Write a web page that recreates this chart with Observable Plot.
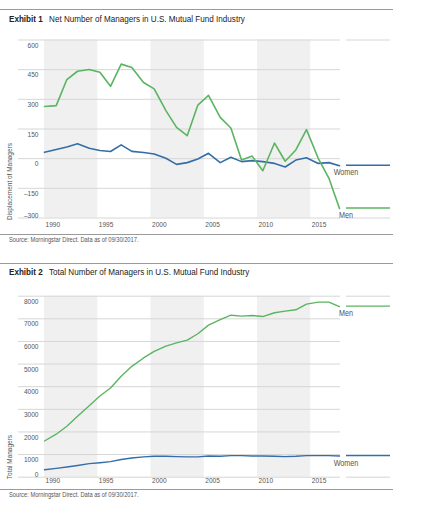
<!DOCTYPE html>
<html>
<head>
<meta charset="utf-8">
<script src="https://cdn.jsdelivr.net/npm/d3@7"></script>
<script src="https://cdn.jsdelivr.net/npm/@observablehq/plot@0.6"></script>
<style>
  body { margin: 0; background: #fff; }
  #page { position: relative; width: 422px; height: 508px; overflow: hidden;
    font-family: "Liberation Sans", Arial, sans-serif; }
  .rule { position: absolute; left: 0; width: 393px; height: 0; border-top: 1px solid #9a9a9a; }
  .title { position: absolute; left: 9px; font-size: 9.9px; line-height: 10px; color: #222; white-space: nowrap;
    transform: scaleX(0.82); transform-origin: 0 0; }
  .title b { margin-right: 5px; }
  .source { position: absolute; left: 9px; font-size: 7px; line-height: 8px; color: #555; white-space: nowrap;
    transform: scaleX(0.82); transform-origin: 0 0; }
  .chart { position: absolute; left: 0; }
</style>
</head>
<body>
<div id="page">
  <div class="rule" style="top:9px"></div>
  <div class="title" style="top:14px"><b>Exhibit 1</b> Net Number of Managers in U.S. Mutual Fund Industry</div>
  <div class="chart" id="c1" style="top:30px"></div>
  <div class="rule" style="top:234px"></div>
  <div class="source" style="top:235.5px">Source: Morningstar Direct. Data as of 09/30/2017.</div>

  <div class="rule" style="top:263px"></div>
  <div class="title" style="top:267px"><b>Exhibit 2</b> Total Number of Managers in U.S. Mutual Fund Industry</div>
  <div class="chart" id="c2" style="top:285px"></div>
  <div class="rule" style="top:489px"></div>
  <div class="source" style="top:491px">Source: Morningstar Direct. Data as of 09/30/2017.</div>
</div>
<script>
const obsDates = [1990.0, 1991.1, 1992.1, 1993.1, 1994.2, 1995.2, 1996.2, 1997.2, 1998.2, 1999.3,
  2000.3, 2001.4, 2002.4, 2003.4, 2004.4, 2005.4, 2006.5, 2007.5, 2008.5, 2009.5,
  2010.5, 2011.6, 2012.6, 2013.6, 2014.6, 2015.7, 2016.7, 2017.7];

// Exhibit 1: net number (displacement) of managers
const netMen = [264, 268, 400, 442, 451, 437, 366, 478, 461, 385, 353, 243, 158, 116, 271, 320,
  209, 155, -7, 13, -61, 79, -13, 44, 147, 2, -98, -252];
const netWomen = [32, 46, 59, 75, 53, 41, 36, 70, 37, 31, 24, 2, -29, -20, -2, 27,
  -20, 7, -15, -10, -15, -24, -42, -7, 5, -24, -20, -36];

// Exhibit 2: total number of managers
const totalMen = [1600, 1900, 2250, 2690, 3160, 3590, 3940, 4460, 4900, 5270, 5560, 5790, 5940, 6060,
  6340, 6720, 6960, 7160, 7120, 7150, 7100, 7270, 7340, 7400, 7650, 7740, 7740, 7540];
const totalWomen = [330, 390, 450, 520, 600, 640, 690, 780, 850, 900, 925, 925, 910, 900,
  900, 940, 925, 955, 955, 940, 940, 925, 910, 925, 955, 955, 955, 935];

const xTicks = [1990, 1995, 2000, 2005, 2010, 2015];
const bandStarts = [1990, 2000, 2010];
const bandEnds = [1995, 2005, 2015];
const netTicks = [-300, -150, 0, 150, 300, 450, 600];
const totalTicks = [0, 1000, 2000, 3000, 4000, 5000, 6000, 7000, 8000];
const seriesNames = ["Women", "Men"];

const GREEN = "#5bb461";
const BLUE = "#336ea8";
const GRID = "#d6d6d6";
const LABEL = "#555";
const FONT = '"Liberation Sans", Arial, sans-serif';

function legendMark(items, lw) {
  return (index, scales, values, dims) => {
    const x0 = dims.width - dims.marginRight + 6;
    const x1 = x0 + 44;
    const top = dims.marginTop, bottom = dims.height - dims.marginBottom;
    const g = d3.create("svg:g");
    for (const yy of [top, bottom]) {
      g.append("line").attr("x1", x0).attr("x2", x1).attr("y1", yy + 0.5).attr("y2", yy + 0.5)
        .attr("stroke", GRID);
    }
    for (const it of items) {
      const y = scales.y(it.value);
      g.append("line").attr("x1", x0).attr("x2", x1).attr("y1", y).attr("y2", y)
        .attr("stroke", it.color).attr("stroke-width", lw);
      g.append("text").attr("x", x0).attr("y", y + 7).attr("dy", "0.35em")
        .attr("fill", LABEL).attr("font-size", 8.8).attr("font-family", FONT).text(it.label);
    }
    return g.node();
  };
}

function chart({men, women, yDomain, yTicks, yFormat, yTitle, marginTop, marginBottom, xLabelDy, lw}) {
  const menData = obsDates.map((t, i) => ({t, v: men[i]}));
  const womenData = obsDates.map((t, i) => ({t, v: women[i]}));
  const bands = bandStarts.map((s, i) => ({s, e: bandEnds[i]}));
  const yMin = yDomain[0];
  return Plot.plot({
    width: 422,
    height: 204,
    marginLeft: 18,
    marginRight: 82,
    marginTop,
    marginBottom,
    x: {domain: [1990, 2017.7], range: [44, 339], axis: null},
    y: {domain: yDomain, axis: null},
    style: {fontFamily: FONT, background: "transparent", overflow: "visible"},
    marks: [
      Plot.rect(bands, {x1: "s", x2: "e", fill: "#f0f0f0"}),
      Plot.ruleY(yTicks, {y: d => d, stroke: GRID, strokeWidth: 1}),
      Plot.text(yTicks.filter(d => d !== yMin), {y: d => d, text: yFormat, frameAnchor: "left",
        dx: 20, dy: 5, textAnchor: "end", fill: LABEL, fontSize: 8}),
      Plot.text([yMin], {y: d => d, text: yFormat, frameAnchor: "left",
        dx: 20, dy: -3, textAnchor: "end", fill: LABEL, fontSize: 8}),
      Plot.text(xTicks, {x: d => d, text: d => String(d), frameAnchor: "bottom",
        dy: xLabelDy, dx: 1, textAnchor: "start", fill: LABEL, fontSize: 8}),
      Plot.text([yTitle], {text: d => d, frameAnchor: "bottom-left", rotate: -90, textAnchor: "start",
        dx: -6.5, dy: 2, fill: LABEL, fontSize: 7.9}),
      Plot.line(womenData, {x: "t", y: "v", stroke: BLUE, strokeWidth: lw}),
      Plot.line(menData, {x: "t", y: "v", stroke: GREEN, strokeWidth: lw}),
      legendMark([
        {label: seriesNames[0], value: women[women.length - 1], color: BLUE},
        {label: seriesNames[1], value: men[men.length - 1], color: GREEN}
      ], lw)
    ]
  });
}

const fmtNet = d => (d < 0 ? "\u2013" : "") + Math.abs(d);
document.getElementById("c1").appendChild(chart({
  men: netMen, women: netWomen, yDomain: [-300, 600], yTicks: netTicks, yFormat: fmtNet,
  yTitle: "Displacement of Managers", marginTop: 9.5, marginBottom: 16.5, xLabelDy: 9.2, lw: 1.6
}));
document.getElementById("c2").appendChild(chart({
  men: totalMen, women: totalWomen, yDomain: [0, 8000], yTicks: totalTicks, yFormat: d => String(d),
  yTitle: "Total Managers", marginTop: 10.7, marginBottom: 12.3, xLabelDy: 6, lw: 1.4
}));

// Emulate the reference's condensed typeface by narrowing glyphs horizontally
document.querySelectorAll("#page svg text").forEach(t => {
  const L = t.getComputedTextLength();
  if (L > 0) {
    t.setAttribute("textLength", (L * 0.82).toFixed(2));
    t.setAttribute("lengthAdjust", "spacingAndGlyphs");
  }
});
</script>
</body>
</html>
